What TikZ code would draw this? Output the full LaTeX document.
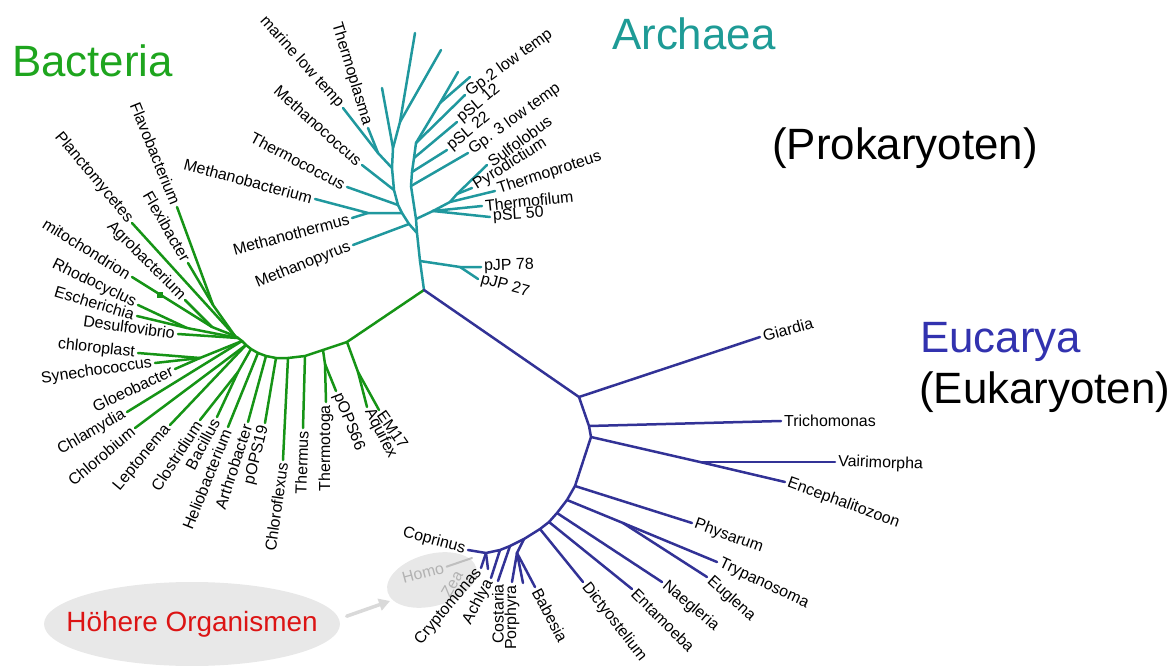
\documentclass[tikz,border=0pt]{standalone}
\usepackage{fontspec}
\setmainfont{Liberation Sans}
\usetikzlibrary{shapes.geometric,arrows.meta,positioning}

\definecolor{bacgreen}{RGB}{22,148,22}
\definecolor{arcteal}{RGB}{32,152,158}
\definecolor{eukblue}{RGB}{50,50,150}
\definecolor{titlegreen}{RGB}{30,165,30}
\definecolor{titleteal}{RGB}{30,155,150}
\definecolor{titleblue}{RGB}{50,50,175}
\definecolor{hred}{RGB}{220,20,20}

\begin{document}
\begin{tikzpicture}[x=1bp, y=-1bp, line cap=round,
    brbac/.style={draw=bacgreen, line width=2.5bp},
    brarc/.style={draw=arcteal, line width=2.5bp},
    breuk/.style={draw=eukblue, line width=2.5bp},
    taxon/.style={font=\fontsize{16}{18}\selectfont, inner sep=3bp},
    greytaxon/.style={taxon, text=black!30},
    domainlabel/.style={font=\fontsize{44}{46}\selectfont, inner sep=0pt, anchor=base west},
    blob/.style={ellipse, fill=black!9, inner sep=0pt}]
\useasboundingbox (0,0) rectangle (1171,666);

% groups of higher organisms
\node[blob, minimum width=296bp, minimum height=84bp] (hoehere) at (192,624) {};
\node[text=hred, font=\fontsize{28}{30}\selectfont] (hoeheretext) at (hoehere) {Höhere Organismen};
\node[blob, minimum width=92bp, minimum height=52bp, rotate=15] (homoell) at (432,580) {};
\coordinate (arrtip) at (390,601);
\draw[black!15, line width=3.5bp, -{Triangle[length=11bp,width=12bp]}, shorten <=8bp] (hoehere.2) -- (arrtip);
\node[greytaxon, rotate=15] (lHomo) at (423,573) {Homo};
\node[greytaxon, rotate=60] (lZea) at (452,584) {Zea};
\coordinate (tHomo) at (472,558);
\draw[black!25, line width=2bp] (lHomo.east) -- (tHomo);

% domain names
\node[domainlabel, text=titlegreen] (bacteria) at (12,77) {Bacteria};
\node[domainlabel, text=titleteal] (archaea) at (612,50) {Archaea};
\node[domainlabel] (prok) at (772,160) {(Prokaryoten)};
\node[domainlabel, text=titleblue] (eucarya) at (920,352) {Eucarya};
\node[domainlabel] (eukaryoten) at (919,403) {(Eukaryoten)};

\coordinate (root) at (424,290);

% ---------------- Archaea
\coordinate (a1) at (420,261);
\coordinate (p1) at (460,267);
\coordinate (a2) at (417,233);
\coordinate (r0) at (416,219);
\coordinate (r1) at (411,186);
\coordinate (r2) at (412,172);
\coordinate (r2b) at (414,158);
\coordinate (r3) at (416,143);
\coordinate (r4) at (440,103);
\coordinate (t1) at (433,211);
\coordinate (t2) at (450,202);
\coordinate (t3) at (457,194);
\coordinate (m0) at (409,224);
\coordinate (m1) at (402,213);
\coordinate (m2) at (398,205);
\coordinate (m3) at (394,190);
\coordinate (m4) at (392,168);
\coordinate (m5) at (393,148);
\coordinate (m6) at (400,122);
\coordinate (mb) at (368,213);
\coordinate (mt) at (378,153);

\coordinate (tpJPa) at (481,267);
\coordinate (tpJPb) at (478,279);
\coordinate (tpSLe) at (490,217);
\coordinate (tThfil) at (482,206);
\coordinate (tThprot) at (495,191);
\coordinate (tPyro) at (472,188);
\coordinate (tSulfo) at (487,165);
\coordinate (tGpc) at (468,153);
\coordinate (tpSLb) at (447,150);
\coordinate (tpSLa) at (457,122);
\coordinate (tGpb) at (465,95);
\coordinate (tua) at (458,72);
\coordinate (tub) at (470,77);
\coordinate (tMpyrus) at (353,245);
\coordinate (tMbact) at (315,199);
\coordinate (tMtherm) at (352,218);
\coordinate (tTcoc) at (347,187);
\coordinate (tMcoc) at (362,165);
\coordinate (tmarine) at (343,108);
\coordinate (tTplas) at (368,128);
\coordinate (tla) at (382,88);
\coordinate (tlb) at (415,33);
\coordinate (tlc) at (441,50);

\draw[brarc] (root) -- (a1) -- (a2) -- (r0) -- (r1) -- (r2) -- (r2b) -- (r3) -- (r4) -- (tua);
\draw[brarc] (r4) -- (tub);
\draw[brarc] (r3) -- (tGpb);
\draw[brarc] (r2b) -- (tpSLa);
\draw[brarc] (r2) -- (tpSLb);
\draw[brarc] (r1) -- (tGpc);
\draw[brarc] (a1) -- (p1) -- (tpJPa);
\draw[brarc] (p1) -- (tpJPb);
\draw[brarc] (r0) -- (t1) -- (tpSLe);
\draw[brarc] (t1) -- (tThfil);
\draw[brarc] (t1) -- (t2) -- (tThprot);
\draw[brarc] (t2) -- (t3) -- (tSulfo);
\draw[brarc] (t3) -- (tPyro);
\draw[brarc] (a2) -- (m0) -- (m1) -- (m2) -- (m3) -- (m4) -- (m5) -- (m6) -- (tlb);
\draw[brarc] (m6) -- (tlc);
\draw[brarc] (m5) -- (tla);
\draw[brarc] (m0) -- (tMpyrus);
\draw[brarc] (m1) -- (mb) -- (tMbact);
\draw[brarc] (mb) -- (tMtherm);
\draw[brarc] (m2) -- (tTcoc);
\draw[brarc] (m3) -- (tMcoc);
\draw[brarc] (m4) -- (mt) -- (tmarine);
\draw[brarc] (mt) -- (tTplas);

\node[taxon, anchor=west, rotate=2] (lpJPa) at (tpJPa) {pJP 78};
\node[taxon, anchor=west, rotate=-15] (lpJPb) at (tpJPb) {pJP 27};
\node[taxon, anchor=west, rotate=4] (lpSLe) at (tpSLe) {pSL 50};
\node[taxon, anchor=west, rotate=6] (lThfil) at (tThfil) {Thermofilum};
\node[taxon, anchor=west, rotate=18] (lThprot) at (tThprot) {Thermoproteus};
\node[taxon, anchor=west, rotate=32] (lPyro) at (tPyro) {Pyrodictium};
\node[taxon, anchor=west, rotate=36] (lSulfo) at (tSulfo) {Sulfolobus};
\node[taxon, anchor=west, rotate=36] (lGpc) at (tGpc) {Gp. 3 low temp};
\node[taxon, anchor=west, rotate=40] (lpSLb) at (tpSLb) {pSL 22};
\node[taxon, anchor=west, rotate=40] (lpSLa) at (tpSLa) {pSL 12};
\node[taxon, anchor=west, rotate=36] (lGpb) at (tGpb) {Gp.2 low temp};
\node[taxon, anchor=east, rotate=22] (lMpyrus) at (tMpyrus) {Methanopyrus};
\node[taxon, anchor=east, rotate=15] (lMtherm) at (tMtherm) {Methanothermus};
\node[taxon, anchor=east, rotate=-15] (lMbact) at (tMbact) {Methanobacterium};
\node[taxon, anchor=east, rotate=-28] (lTcoc) at (tTcoc) {Thermococcus};
\node[taxon, anchor=east, rotate=-42] (lMcoc) at (tMcoc) {Methanococcus};
\node[taxon, anchor=east, rotate=-48] (lmarine) at (tmarine) {marine low temp};
\node[taxon, anchor=east, rotate=-73] (lTplas) at (tTplas) {Thermoplasma};

% ---------------- Bacteria
\coordinate (b0) at (347,342);
\coordinate (b1) at (323,350);
\coordinate (b2) at (305,356);
\coordinate (b3) at (288,358);
\coordinate (b4) at (276,358);
\coordinate (b5) at (266,356);
\coordinate (b6) at (258,353);
\coordinate (b7) at (251,349);
\coordinate (b8) at (246,345);
\coordinate (b9) at (242,341);
\coordinate (b10) at (238,338);
\coordinate (b11) at (235,336);
\coordinate (ba) at (358,372);
\coordinate (bb) at (325,364);
\coordinate (bc) at (238,372);
\coordinate (bd) at (200,358);
\coordinate (be) at (187,328);
\coordinate (bf) at (212,327);
\coordinate (bg) at (213,305);

\coordinate (tEM) at (379,410);
\coordinate (tAqui) at (367,407);
\coordinate (tpOPSb) at (336,391);
\coordinate (tTtoga) at (326,402);
\coordinate (tTher) at (303,428);
\coordinate (tChlfl) at (283,460);
\coordinate (tpOPSa) at (265,423);
\coordinate (tArth) at (248,422);
\coordinate (tHelio) at (228,427);
\coordinate (tBac) at (217,417);
\coordinate (tClos) at (200,420);
\coordinate (tLept) at (170,425);
\coordinate (tChlb) at (135,428);
\coordinate (tChlam) at (127,412);
\coordinate (tGloeo) at (175,369);
\coordinate (tSyn) at (155,363);
\coordinate (tChlp) at (138,353);
\coordinate (tDesu) at (178,334);
\coordinate (tEsch) at (137,316);
\coordinate (tRhod) at (138,305);
\coordinate (tMito) at (132,277);
\coordinate (tAgro) at (185,300);
\coordinate (tPlanc) at (132,223);
\coordinate (tFlexi) at (188,263);
\coordinate (tFlavo) at (177,207);

\draw[brbac] (root) -- (b0) -- (b1) -- (b2) -- (b3) -- (b4) -- (b5) -- (b6) -- (b7) -- (b8) -- (b9) -- (b10) -- (b11);
\draw[brbac] (b0) -- (ba) -- (tEM);
\draw[brbac] (ba) -- (tAqui);
\draw[brbac] (b1) -- (bb) -- (tTtoga);
\draw[brbac] (bb) -- (tpOPSb);
\draw[brbac] (b2) -- (tTher);
\draw[brbac] (b3) -- (tChlfl);
\draw[brbac] (b4) -- (tpOPSa);
\draw[brbac] (b5) -- (tArth);
\draw[brbac] (b6) -- (tHelio);
\draw[brbac] (b7) -- (bc) -- (tBac);
\draw[brbac] (bc) -- (tClos);
\draw[brbac] (b8) -- (tLept);
\draw[brbac] (b8) -- (tChlb);
\draw[brbac] (b9) -- (tChlam);
\draw[brbac] (b9) -- (bd) -- (tGloeo);
\draw[brbac] (bd) -- (tSyn);
\draw[brbac] (bd) -- (tChlp);
\draw[brbac] (b10) -- (tDesu);
\draw[brbac] (b10) -- (be) -- (tEsch);
\draw[brbac] (be) -- (tRhod);
\draw[brbac] (b11) -- (bf) -- (tMito);
\draw[brbac] (bf) -- (tAgro);
\draw[brbac] (b11) -- (tPlanc);
\draw[brbac] (b11) -- (bg) -- (tFlavo);
\draw[brbac] (bg) -- (tFlexi);
\node[fill=bacgreen, inner sep=0pt, minimum size=6bp] (mitomark) at (160,295) {};

\node[taxon, anchor=west, rotate=-55] (lEM) at (tEM) {EM17};
\node[taxon, anchor=west, rotate=-63] (lAqui) at (tAqui) {Aquifex};
\node[taxon, anchor=west, rotate=-68] (lpOPSb) at (tpOPSb) {pOPS66};
\node[taxon, anchor=east, rotate=90] (lTtoga) at (tTtoga) {Thermotoga};
\node[taxon, anchor=east, rotate=88] (lTher) at (tTher) {Thermus};
\node[taxon, anchor=east, rotate=82] (lChlfl) at (tChlfl) {Chloroflexus};
\node[taxon, anchor=east, rotate=76] (lpOPSa) at (tpOPSa) {pOPS19};
\node[taxon, anchor=east, rotate=72] (lArth) at (tArth) {Arthrobacter};
\node[taxon, anchor=east, rotate=68] (lHelio) at (tHelio) {Heliobacterium};
\node[taxon, anchor=east, rotate=62] (lBac) at (tBac) {Bacillus};
\node[taxon, anchor=east, rotate=57] (lClos) at (tClos) {Clostridium};
\node[taxon, anchor=east, rotate=50] (lLept) at (tLept) {Leptonema};
\node[taxon, anchor=east, rotate=40] (lChlb) at (tChlb) {Chlorobium};
\node[taxon, anchor=east, rotate=30] (lChlam) at (tChlam) {Chlamydia};
\node[taxon, anchor=east, rotate=25] (lGloeo) at (tGloeo) {Gloeobacter};
\node[taxon, anchor=east, rotate=8] (lSyn) at (tSyn) {Synechococcus};
\node[taxon, anchor=east, rotate=-6] (lChlp) at (tChlp) {chloroplast};
\node[taxon, anchor=east, rotate=-8] (lDesu) at (tDesu) {Desulfovibrio};
\node[taxon, anchor=east, rotate=-17] (lEsch) at (tEsch) {Escherichia};
\node[taxon, anchor=east, rotate=-26] (lRhod) at (tRhod) {Rhodocyclus};
\node[taxon, anchor=east, rotate=-32] (lMito) at (tMito) {mitochondrion};
\node[taxon, anchor=east, rotate=-45] (lAgro) at (tAgro) {Agrobacterium};
\node[taxon, anchor=east, rotate=-50] (lPlanc) at (tPlanc) {Planctomycetes};
\node[taxon, anchor=east, rotate=-60] (lFlexi) at (tFlexi) {Flexibacter};
\node[taxon, anchor=east, rotate=-68] (lFlavo) at (tFlavo) {Flavobacterium};

% ---------------- Eucarya
\coordinate (e1) at (579,397);
\coordinate (e2) at (589,426);
\coordinate (e3) at (591,437);
\coordinate (e4) at (575,486);
\coordinate (e5) at (567,500);
\coordinate (e6) at (557,513);
\coordinate (e7) at (549,522);
\coordinate (e8) at (540,529);
\coordinate (ec1) at (524,539);
\coordinate (ec2) at (510,546);
\coordinate (ec3) at (500,550);
\coordinate (ec4) at (486,553);
\coordinate (ep) at (517,553);
\coordinate (ev) at (700,462);
\coordinate (et) at (623,523);

\coordinate (tGiar) at (760,337);
\coordinate (tTrich) at (781,421);
\coordinate (tVair) at (835,462);
\coordinate (tEnceph) at (785,482);
\coordinate (tPhys) at (692,523);
\coordinate (tTrypa) at (717,562);
\coordinate (tEugl) at (707,577);
\coordinate (tNaeg) at (662,582);
\coordinate (tEnta) at (632,589);
\coordinate (tDict) at (583,582);
\coordinate (tBab) at (535,587);
\coordinate (tBabx) at (523,583);
\coordinate (tPorph) at (512,582);
\coordinate (tCost) at (498,581);
\coordinate (tAchl) at (491,578);
\coordinate (tZea) at (488,569);
\coordinate (tCrypt) at (481,568);
\coordinate (tCopr) at (468,550);

\draw[breuk] (root) -- (e1) -- (e2) -- (e3) -- (e4) -- (e5) -- (e6) -- (e7) -- (e8) -- (ec1) -- (ec2) -- (ec3) -- (ec4) -- (tCopr);
\draw[breuk] (e1) -- (tGiar);
\draw[breuk] (e2) -- (tTrich);
\draw[breuk] (e3) -- (ev) -- (tEnceph);
\draw[breuk] (ev) -- (tVair);
\draw[breuk] (e4) -- (tPhys);
\draw[breuk] (e5) -- (et) -- (tTrypa);
\draw[breuk] (et) -- (tEugl);
\draw[breuk] (e6) -- (tNaeg);
\draw[breuk] (e7) -- (tEnta);
\draw[breuk] (e8) -- (tDict);
\draw[breuk] (ec1) -- (ep) -- (tBab);
\draw[breuk] (ep) -- (tBabx);
\draw[breuk] (ep) -- (tPorph);
\draw[breuk] (ec2) -- (tCost);
\draw[breuk] (ec3) -- (tAchl);
\draw[breuk] (ec4) -- (tZea);
\draw[breuk] (ec4) -- (tCrypt);

\node[taxon, anchor=west, rotate=15] (lGiar) at (tGiar) {Giardia};
\node[taxon, anchor=west] (lTrich) at (tTrich) {Trichomonas};
\node[taxon, anchor=west, rotate=-2] (lVair) at (tVair) {Vairimorpha};
\node[taxon, anchor=west, rotate=-20] (lEnceph) at (tEnceph) {Encephalitozoon};
\node[taxon, anchor=west, rotate=-20] (lPhys) at (tPhys) {Physarum};
\node[taxon, anchor=west, rotate=-25] (lTrypa) at (tTrypa) {Trypanosoma};
\node[taxon, anchor=west, rotate=-42] (lEugl) at (tEugl) {Euglena};
\node[taxon, anchor=west, rotate=-40] (lNaeg) at (tNaeg) {Naegleria};
\node[taxon, anchor=west, rotate=-45] (lEnta) at (tEnta) {Entamoeba};
\node[taxon, anchor=west, rotate=-52] (lDict) at (tDict) {Dictyostelium};
\node[taxon, anchor=west, rotate=-62] (lBab) at (tBab) {Babesia};
\node[taxon, anchor=east, rotate=90] (lPorph) at (tPorph) {Porphyra};
\node[taxon, anchor=east, rotate=90] (lCost) at (tCost) {Costaria};
\node[taxon, anchor=east, rotate=62] (lAchl) at (tAchl) {Achlya};
\node[taxon, anchor=east, rotate=50] (lCrypt) at (tCrypt) {Cryptomonas};
\node[taxon, anchor=east, rotate=-15] (lCopr) at (tCopr) {Coprinus};
\end{tikzpicture}
\end{document}
